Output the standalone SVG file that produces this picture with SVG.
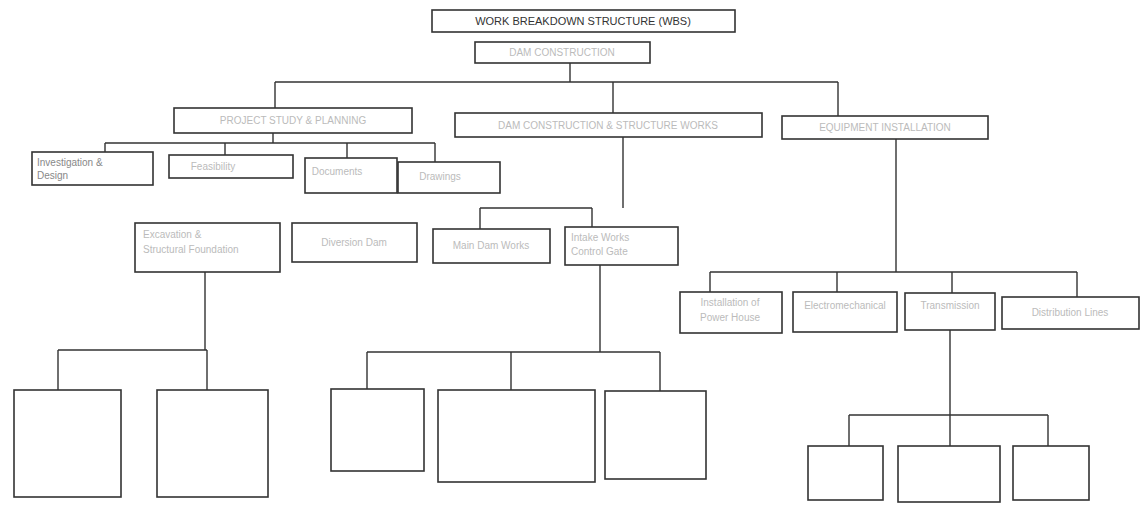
<svg xmlns="http://www.w3.org/2000/svg" width="1147" height="506" viewBox="0 0 1147 506">
<style>
.b{fill:#fff;stroke:#333;stroke-width:1.6}
.c{fill:none;stroke:#333;stroke-width:1.4}
.t{font-family:"Liberation Sans",Arial,sans-serif;font-size:10px;fill:#bbb;text-anchor:middle}
.l{text-anchor:start}
.d{fill:#888}
.h{font-family:"Liberation Sans",Arial,sans-serif;font-size:11px;fill:#333;text-anchor:middle}
</style>
<rect width="1147" height="506" fill="#fff"/>
<g id="connectors">
<path class="c" d="M570 63V82M275 82H838M275 82V108M613 82V113M838 82V116"/>
<path class="c" d="M273 133V143M105 143H435M105 143V152M225 143V155M347 143V158M435 143V162"/>
<path class="c" d="M623 137V208M480 208H592M480 208V229M592 208V227"/>
<path class="c" d="M896 139V272M710 272H1077M710 272V292M837 272V292M952 272V293M1077 272V297"/>
<path class="c" d="M205 272V350M58 350H207M58 350V390M207 350V390"/>
<path class="c" d="M600 265V352M367 352H660M367 352V389M511 352V390M660 352V391"/>
<path class="c" d="M950 330V415M849 415H1048M849 415V446M950 415V446M1048 415V446"/>
</g>
<g id="wbs"><rect class="b" x="432" y="10" width="303" height="22"/><text class="h" x="583" y="25">WORK BREAKDOWN STRUCTURE (WBS)</text></g>
<g id="dam"><rect class="b" x="475" y="42" width="175" height="21"/><text class="t" x="562" y="56">DAM CONSTRUCTION</text></g>
<g id="planning"><rect class="b" x="174" y="108" width="238" height="25"/><text class="t" x="293" y="124">PROJECT STUDY &amp; PLANNING</text></g>
<g id="construction"><rect class="b" x="455" y="113" width="307" height="24"/><text class="t" x="608" y="129">DAM CONSTRUCTION &amp; STRUCTURE WORKS</text></g>
<g id="installation"><rect class="b" x="782" y="116" width="206" height="23"/><text class="t" x="885" y="131">EQUIPMENT INSTALLATION</text></g>
<g id="investigation"><rect class="b" x="32" y="152" width="121" height="33"/><text class="t l d" x="37" y="166">Investigation &amp;</text><text class="t l d" x="37" y="179">Design</text></g>
<g id="feasibility"><rect class="b" x="169" y="155" width="124" height="23"/><text class="t" x="213" y="170">Feasibility</text></g>
<g id="documents"><rect class="b" x="305" y="158" width="92" height="35"/><text class="t" x="337" y="175">Documents</text></g>
<g id="drawings"><rect class="b" x="398" y="162" width="102" height="31"/><text class="t" x="440" y="180">Drawings</text></g>
<g id="excavation"><rect class="b" x="135" y="223" width="145" height="49"/><text class="t l" x="143" y="238">Excavation &amp;</text><text class="t l" x="143" y="253">Structural Foundation</text></g>
<g id="diversion"><rect class="b" x="292" y="223" width="125" height="39"/><text class="t" x="354" y="246">Diversion Dam</text></g>
<g id="maindam"><rect class="b" x="433" y="229" width="117" height="34"/><text class="t" x="491" y="249">Main Dam Works</text></g>
<g id="intake"><rect class="b" x="565" y="227" width="113" height="38"/><text class="t l" x="571" y="241">Intake Works</text><text class="t l" x="571" y="255">Control Gate</text></g>
<g id="powerhouse"><rect class="b" x="680" y="292" width="102" height="41"/><text class="t" x="730" y="306">Installation of</text><text class="t" x="730" y="321">Power House</text></g>
<g id="electro"><rect class="b" x="793" y="292" width="104" height="40"/><text class="t" x="845" y="309">Electromechanical</text></g>
<g id="transmission"><rect class="b" x="905" y="293" width="90" height="37"/><text class="t" x="950" y="309">Transmission</text></g>
<g id="distribution"><rect class="b" x="1002" y="297" width="137" height="32"/><text class="t" x="1070" y="316">Distribution Lines</text></g>
<g id="leaf1"><rect class="b" x="14" y="390" width="107" height="107"/></g>
<g id="leaf2"><rect class="b" x="157" y="390" width="111" height="107"/></g>
<g id="leaf3"><rect class="b" x="331" y="389" width="93" height="82"/></g>
<g id="leaf4"><rect class="b" x="438" y="390" width="157" height="92"/></g>
<g id="leaf5"><rect class="b" x="605" y="391" width="101" height="88"/></g>
<g id="leaf6"><rect class="b" x="808" y="446" width="75" height="54"/></g>
<g id="leaf7"><rect class="b" x="898" y="446" width="102" height="56"/></g>
<g id="leaf8"><rect class="b" x="1013" y="446" width="76" height="54"/></g>
</svg>
